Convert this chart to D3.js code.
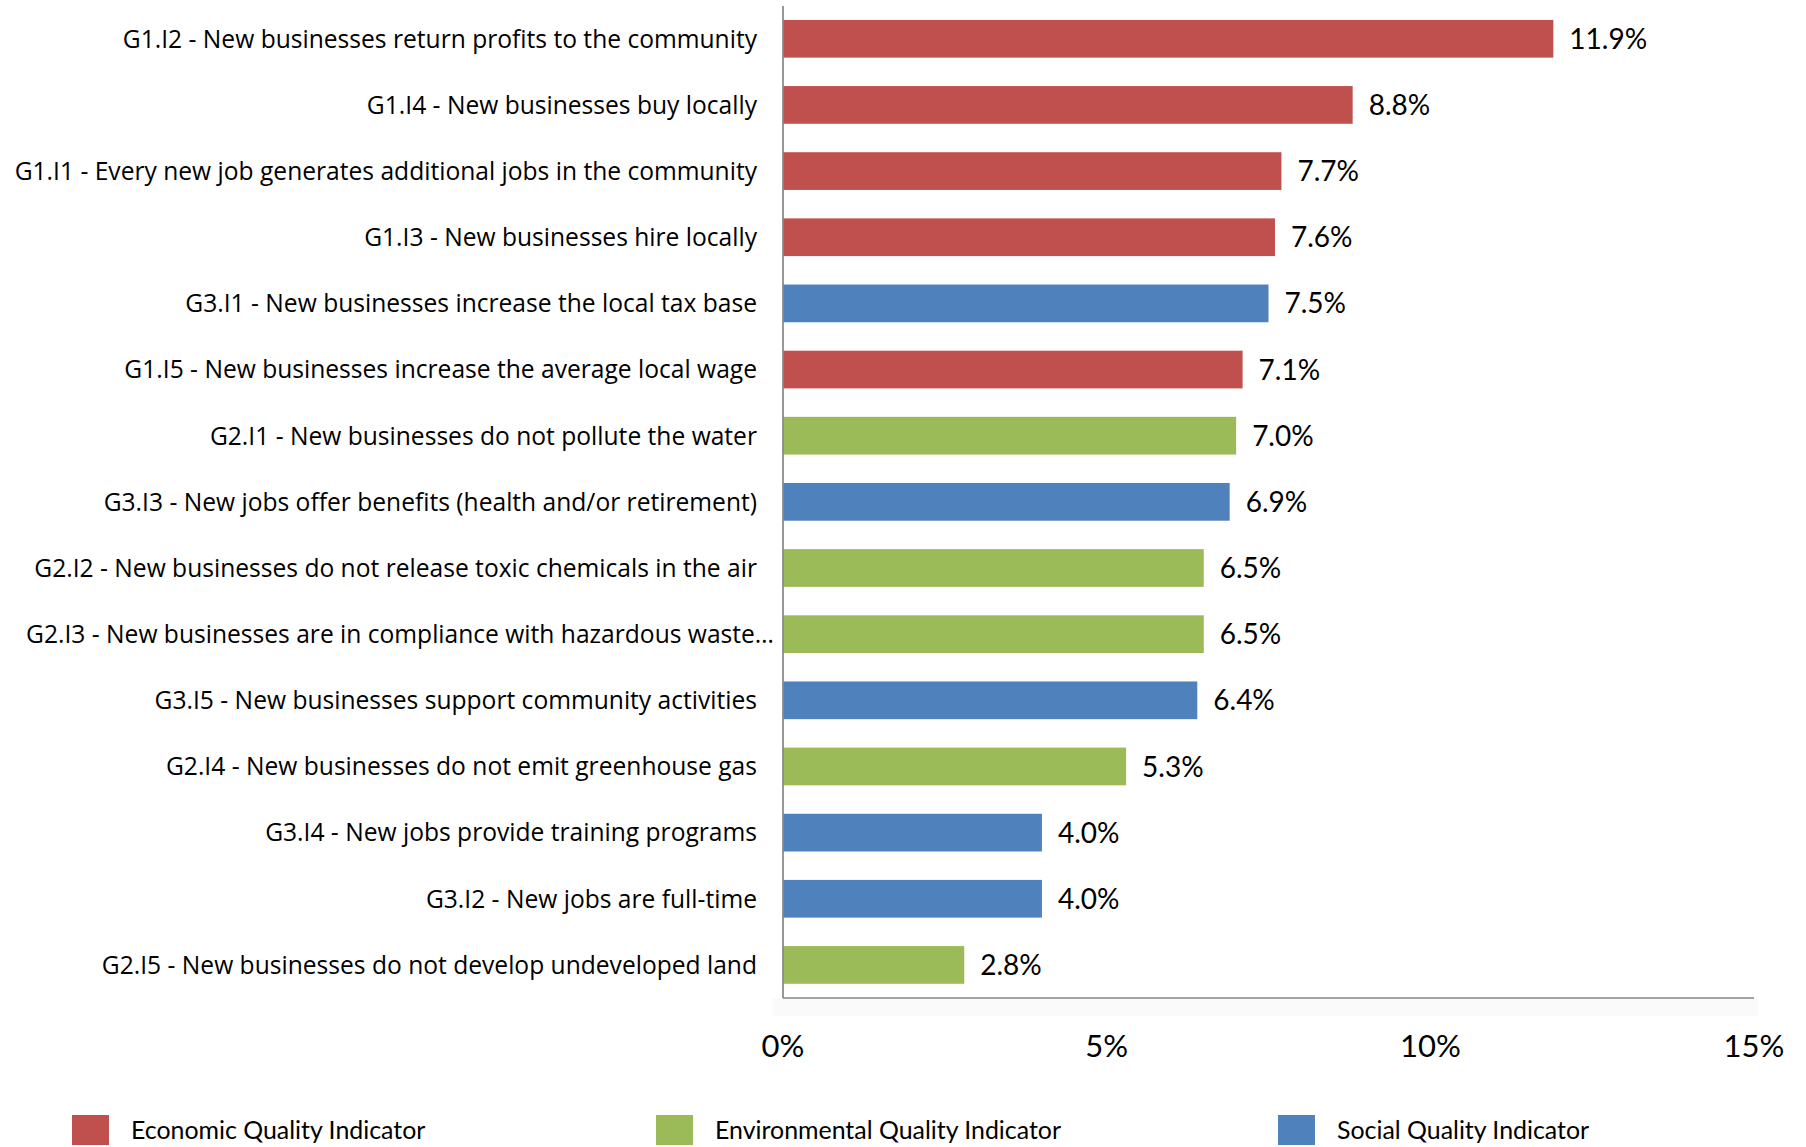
<!DOCTYPE html>
<html>
<head>
<meta charset="utf-8">
<script src="https://cdn.jsdelivr.net/npm/d3@7"></script>
<style>
  html, body { margin: 0; padding: 0; background: #ffffff; }
  svg { display: block; font-family: Lato, "Open Sans", sans-serif; }
</style>
</head>
<body>
<svg id="chart" width="1806" height="1147"></svg>
<script>
// ---- data ----
const categories = [
  "G1.I2 - New businesses return profits to the community",
  "G1.I4 - New businesses buy locally",
  "G1.I1 - Every new job generates additional jobs in the community",
  "G1.I3 - New businesses hire locally",
  "G3.I1 - New businesses increase the local tax base",
  "G1.I5 - New businesses increase the average local wage",
  "G2.I1 - New businesses do not pollute the water",
  "G3.I3 - New jobs offer benefits (health and/or retirement)",
  "G2.I2 - New businesses do not release toxic chemicals in the air",
  "G2.I3 - New businesses are in compliance with hazardous waste…",
  "G3.I5 - New businesses support community activities",
  "G2.I4 - New businesses do not emit greenhouse gas",
  "G3.I4 - New jobs provide training programs",
  "G3.I2 - New jobs are full-time",
  "G2.I5 - New businesses do not develop undeveloped land"
];
const values = [11.9, 8.8, 7.7, 7.6, 7.5, 7.1, 7.0, 6.9, 6.5, 6.5, 6.4, 5.3, 4.0, 4.0, 2.8];
const groups = ["Economic", "Economic", "Economic", "Economic", "Social", "Economic", "Environmental",
                "Social", "Environmental", "Environmental", "Social", "Environmental", "Social", "Social", "Environmental"];
const legendLabels = ["Economic Quality Indicator", "Environmental Quality Indicator", "Social Quality Indicator"];
const legendGroups = ["Economic", "Environmental", "Social"];
const xTicks = [0, 5, 10, 15];

// ---- layout ----
const svg = d3.select("#chart");
const x0 = 783, x1 = 1754, yTop = 5.7, yBot = 998;

const color = d3.scaleOrdinal()
  .domain(["Economic", "Environmental", "Social"])
  .range(["#C0504D", "#9BBB59", "#4F81BD"]);

const x = d3.scaleLinear().domain([0, 15]).range([x0, x1]);
const y = d3.scaleBand().domain(categories).range([yTop, yBot])
  .paddingInner(0.43).paddingOuter(0.215);

const rows = categories.map((c, i) => ({ c, v: values[i], g: groups[i] }));

// light shadow band beneath axis
svg.append("rect").attr("x", x0 - 10).attr("y", yBot).attr("width", x1 - x0 + 14).attr("height", 18)
  .attr("fill", "#fafafa");

// bars
svg.append("g").selectAll("rect").data(rows).join("rect")
  .attr("x", x(0))
  .attr("y", d => y(d.c))
  .attr("width", d => x(d.v) - x(0))
  .attr("height", y.bandwidth())
  .attr("fill", d => color(d.g));

// value labels
svg.append("g").selectAll("text").data(rows).join("text")
  .attr("x", d => x(d.v) + 16)
  .attr("y", d => y(d.c) + y.bandwidth() / 2)
  .attr("dy", "0.36em")
  .attr("font-size", 28)
  .attr("fill", "#000")
  .text(d => d3.format(".1f")(d.v) + "%");

// category labels (truncated label is pushed closer to the axis, as in the source)
svg.append("g").selectAll("text").data(rows).join("text")
  .attr("x", d => x0 - (d.c.endsWith("…") ? 9 : 26))
  .attr("y", d => y(d.c) + y.bandwidth() / 2)
  .attr("dy", "0.36em")
  .attr("text-anchor", "end")
  .attr("font-family", "'Open Sans', sans-serif")
  .attr("font-size", 24.6)
  .attr("fill", "#000")
  .text(d => d.c);

// axes lines
svg.append("line").attr("x1", x0).attr("x2", x0).attr("y1", 6).attr("y2", yBot)
  .attr("stroke", "#868686").attr("stroke-width", 1.7);
svg.append("line").attr("x1", x0).attr("x2", x1).attr("y1", yBot).attr("y2", yBot)
  .attr("stroke", "#868686").attr("stroke-width", 1.7);

// x tick labels
svg.append("g").selectAll("text").data(xTicks).join("text")
  .attr("x", d => x(d))
  .attr("y", 1056.5)
  .attr("text-anchor", "middle")
  .attr("font-size", 31)
  .attr("fill", "#000")
  .text(d => d + "%");

// legend
const legX = [72, 656, 1278];
const leg = svg.append("g").selectAll("g").data(legendLabels).join("g")
  .attr("transform", (d, i) => `translate(${legX[i]},1115)`);
leg.append("rect").attr("width", 37).attr("height", 30)
  .attr("fill", (d, i) => color(legendGroups[i]));
leg.append("text").attr("x", 59).attr("y", 24).attr("font-size", 24.9).attr("fill", "#000")
  .text(d => d);
</script>
</body>
</html>
